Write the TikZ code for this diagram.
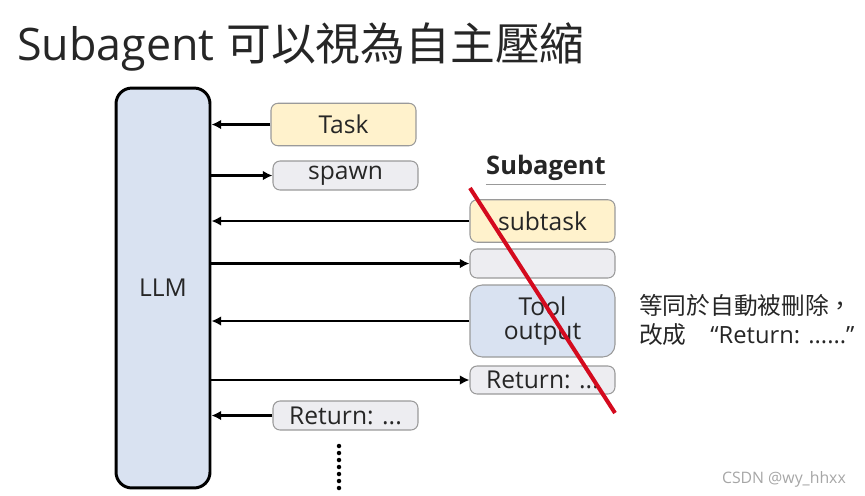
\documentclass[tikz,border=0pt]{standalone}
\usepackage{fontspec}
\setmainfont{Open Sans}
\newfontfamily\cjk{Noto Sans CJK TC}
\usepackage{xcolor}
\usetikzlibrary{arrows.meta}
\definecolor{taskyellow}{HTML}{FFF2CC}
\definecolor{msggray}{HTML}{EDEDF1}
\definecolor{llmblue}{HTML}{D9E2F1}
\definecolor{strikered}{HTML}{D40A1E}
\definecolor{boxline}{HTML}{9A9A9A}

\begin{document}
\begin{tikzpicture}[
  x=0.02cm, y=-0.02cm, % one unit = one pixel of the slide
  every node/.style={font=\fontsize{14}{16}\selectfont, text=black!85},
  msg/.style={draw=boxline, line width=0.6pt, rounded corners=4pt, minimum width=2.9cm, inner sep=0pt},
  yellow msg/.style={msg, fill=taskyellow, minimum height=0.85cm},
  gray msg/.style={msg, fill=msggray, minimum height=0.58cm},
  link/.style={line width=1.4pt, -{Latex[length=5.5pt,width=5.5pt]}}]

\useasboundingbox (0,0) rectangle (865,495);

\node[anchor=west, font=\fontsize{25.5}{28}\selectfont] (title) at (11,47) {Subagent {\cjk 可以視為自主壓縮}};

\node[draw=black, line width=1.7pt, fill=llmblue, rounded corners=9pt,
  minimum width=1.88cm, minimum height=8cm] (llm) at (163,288) {LLM};

\node[yellow msg] (task) at (343.5,124.5) {Task};
\node[gray msg] (spawn) at (345.5,175.5) {\raisebox{-1.5pt}{spawn}};
\node[gray msg] (retmain) at (345.5,415.5) {Return: ...};

\node[inner sep=0pt, font=\fontsize{14.5}{16}\selectfont\bfseries] (head) at (546,168) {Subagent};
\draw[black!40, line width=0.7pt] ([yshift=-2pt]head.south west) -- ([yshift=-2pt]head.south east);

\node[yellow msg] (subtask) at (542.5,221) {subtask};
\node[gray msg] (empty) at (542.5,263.5) {};
\node[msg, fill=llmblue, rounded corners=7pt, minimum height=1.44cm, align=center] (tool) at (542.5,321) {Tool\\[-2pt]output};
\node[gray msg, minimum height=0.56cm] (retsub) at (542.5,380) {Return: ...};

\draw[link] (task.west) -- (task.west -| llm.east);
\draw[link] (llm.east |- spawn.west) -- (spawn.west);
\draw[link] (subtask.west) -- (subtask.west -| llm.east);
\draw[link] (llm.east |- empty.west) -- (empty.west);
\draw[link] (tool.west) -- (tool.west -| llm.east);
\draw[link] (llm.east |- retsub.west) -- (retsub.west);
\draw[link] (retmain.west) -- (retmain.west -| llm.east);

\draw[strikered, line width=2.3pt] (470,188) -- (615,413);

\node[anchor=west, align=left, font=\fontsize{13.5}{17}\selectfont] (note) at (633,320)
  {{\cjk 等同於自動被刪除，}\\{\cjk 改成}\quad “Return: ......”};

\foreach \d in {446,453,...,488}
  \fill (339,\d) circle (0.045cm);

\node[anchor=east, text=black!35, font=\fontsize{9}{10}\selectfont] (mark) at (852,479) {CSDN @wy\_hhxx};
\end{tikzpicture}
\end{document}
